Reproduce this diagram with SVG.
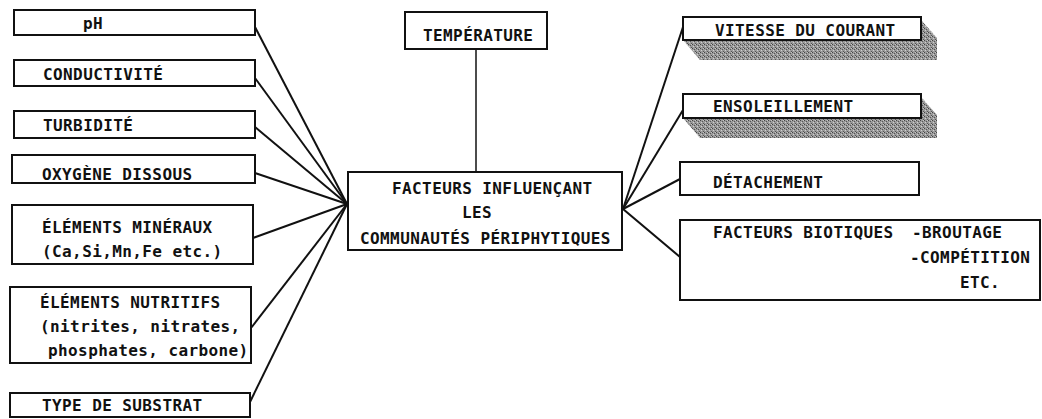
<svg xmlns="http://www.w3.org/2000/svg" width="1042" height="419" viewBox="0 0 1042 419">
<style>
.box{fill:#fff;stroke:#111;stroke-width:2}
.t{font-family:"DejaVu Sans Mono","Liberation Mono",monospace;font-size:16px;font-weight:bold;letter-spacing:0.4px;fill:#111}
.c{stroke:#111;stroke-width:2;fill:none}
.sh{fill:url(#dither)}
</style>
<defs>
<pattern id="dither" width="4" height="4" patternUnits="userSpaceOnUse">
<rect width="4" height="4" fill="#9a9a9a"/>
<rect x="0" y="0" width="1" height="1" fill="#444"/>
<rect x="2" y="1" width="1" height="1" fill="#555"/>
<rect x="1" y="2" width="1" height="1" fill="#cfcfcf"/>
<rect x="3" y="3" width="1" height="1" fill="#555"/>
<rect x="3" y="0" width="1" height="1" fill="#c4c4c4"/>
</pattern>
</defs>
<rect width="1042" height="419" fill="#fff"/>
<g id="connectors">
<line class="c" x1="255" y1="27" x2="347" y2="204"/>
<line class="c" x1="255" y1="78" x2="347" y2="204"/>
<line class="c" x1="255" y1="127" x2="347" y2="204"/>
<line class="c" x1="255" y1="173" x2="347" y2="204"/>
<line class="c" x1="253" y1="238" x2="347" y2="204"/>
<line class="c" x1="251" y1="328" x2="347" y2="204"/>
<line class="c" x1="250" y1="402" x2="347" y2="204"/>
<line class="c" x1="476" y1="49" x2="476" y2="172" style="stroke-width:1.5"/>
<line class="c" x1="623" y1="209" x2="683" y2="27"/>
<line class="c" x1="623" y1="209" x2="683" y2="110"/>
<line class="c" x1="623" y1="209" x2="680" y2="179"/>
<line class="c" x1="623" y1="209" x2="680" y2="257"/>
</g>
<g id="ph"><rect class="box" x="14" y="10" width="241" height="25"/><text class="t" x="83" y="29">pH</text></g>
<g id="conductivite"><rect class="box" x="14" y="60" width="241" height="26"/><text class="t" x="43" y="80">CONDUCTIVITÉ</text></g>
<g id="turbidite"><rect class="box" x="14" y="111" width="241" height="27"/><text class="t" x="43" y="131">TURBIDITÉ</text></g>
<g id="oxygene"><rect class="box" x="12" y="155" width="243" height="28"/><text class="t" x="42" y="180">OXYGÈNE DISSOUS</text></g>
<g id="mineraux"><rect class="box" x="12" y="205" width="241" height="59"/><text class="t" x="42" y="233">ÉLÉMENTS MINÉRAUX</text><text class="t" x="42" y="257">(Ca,Si,Mn,Fe etc.)</text></g>
<g id="nutritifs"><rect class="box" x="10" y="287" width="241" height="76"/><text class="t" x="40" y="308">ÉLÉMENTS NUTRITIFS</text><text class="t" x="40" y="332">(nitrites, nitrates,</text><text class="t" x="48" y="356">phosphates, carbone)</text></g>
<g id="substrat"><rect class="box" x="10" y="393" width="240" height="24"/><text class="t" x="42" y="411">TYPE DE SUBSTRAT</text></g>
<g id="temperature"><rect class="box" x="405" y="12" width="142" height="37"/><text class="t" x="423" y="41">TEMPÉRATURE</text></g>
<g id="centre"><rect class="box" x="348" y="172" width="274" height="78"/><text class="t" x="392" y="194">FACTEURS INFLUENÇANT</text><text class="t" x="462" y="218">LES</text><text class="t" x="360" y="244">COMMUNAUTÉS PÉRIPHYTIQUES</text></g>
<g id="vitesse"><polygon class="sh" points="921,20 937,38 937,60 700,60 683,40"/><rect class="box" x="683" y="17" width="238" height="23"/><text class="t" x="715" y="36">VITESSE DU COURANT</text></g>
<g id="ensoleillement"><polygon class="sh" points="921,97 937,115 937,138 700,138 683,118"/><rect class="box" x="683" y="94" width="238" height="24"/><text class="t" x="713" y="112">ENSOLEILLEMENT</text></g>
<g id="detachement"><rect class="box" x="680" y="162" width="239" height="33"/><text class="t" x="713" y="188">DÉTACHEMENT</text></g>
<g id="biotiques"><rect class="box" x="680" y="220" width="360" height="80"/><text class="t" x="713" y="238">FACTEURS BIOTIQUES</text><text class="t" x="912" y="238">-BROUTAGE</text><text class="t" x="910" y="263">-COMPÉTITION</text><text class="t" x="960" y="288">ETC.</text></g>
</svg>
